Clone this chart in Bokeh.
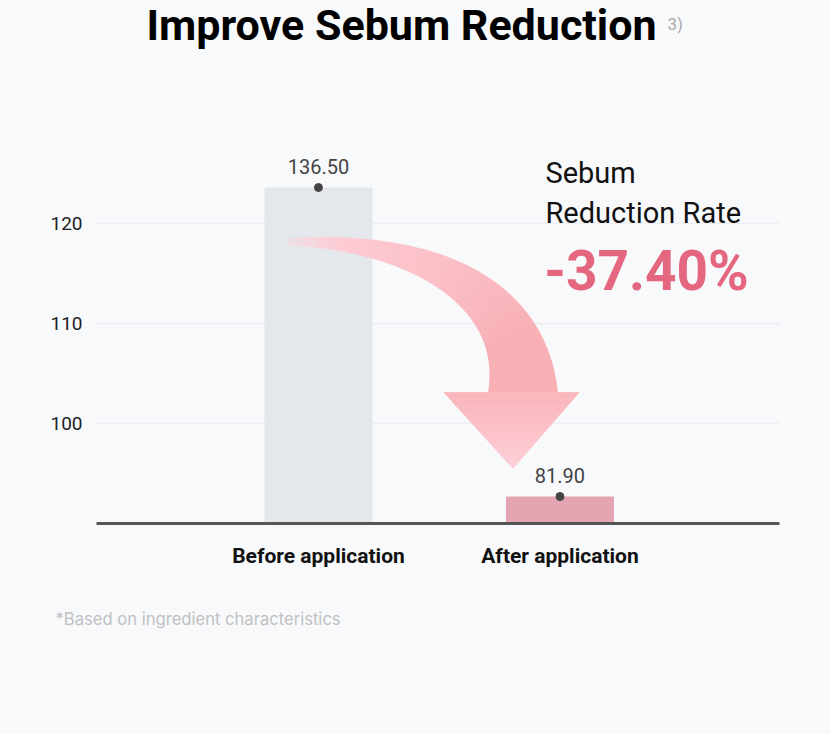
import numpy as np
from bokeh.plotting import figure
from bokeh.models import Range1d, FixedTicker, Title
from bokeh.core.properties import value
from bokeh.embed import file_html
from bokeh.resources import INLINE

# ---------------- data ----------------
categories = ["Before application", "After application"]
reported_values = ["136.50", "81.90"]
bar_heights = [123.6, 92.7]          # heights as drawn on the truncated axis
bar_colors = ["#e4e7eb", "#e4a4b1"]
y_ticks = [100, 110, 120]
y_base = 90
rate_lines = ["Sebum", "Reduction Rate"]
rate_value = "-37.40%"
title_text = "Improve Sebum Reduction"
title_note = "3)"
footnote = "*Based on ingredient characteristics"

# ---------------- layout ----------------
W, H = 830, 734
BG = "#f8f9fb"
x_lo, x_hi = -0.919, 1.909
y_lo, y_hi = y_base, 142.3
ml, mr, mt, mb = 96, 51, 0, 211
px_x = (W - ml - mr) / (x_hi - x_lo)
px_y = (H - mt - mb) / (y_hi - y_lo)
FONT = "Roboto"

xs = list(range(len(categories)))

p = figure(width=W, height=H, output_backend="svg", toolbar_location=None,
           x_range=Range1d(x_lo, x_hi), y_range=Range1d(y_lo, y_hi),
           min_border_left=ml, min_border_right=mr,
           min_border_top=mt, min_border_bottom=mb,
           background_fill_color=BG, border_fill_color=BG)
p.outline_line_color = None

# axes
p.xaxis.ticker = FixedTicker(ticks=xs)
p.xaxis.major_label_overrides = {i: c for i, c in zip(xs, categories)}
p.xaxis.axis_line_color = "#555555"
p.xaxis.axis_line_width = 3
p.xaxis.major_tick_line_color = None
p.xaxis.minor_tick_line_color = None
p.xaxis.major_tick_out = 0
p.xaxis.major_label_standoff = 20
p.xaxis.major_label_text_font = FONT
p.xaxis.major_label_text_font_style = "bold"
p.xaxis.major_label_text_font_size = "21px"
p.xaxis.major_label_text_color = "#111111"

p.yaxis.ticker = FixedTicker(ticks=y_ticks)
p.yaxis.axis_line_color = None
p.yaxis.major_tick_line_color = None
p.yaxis.minor_tick_line_color = None
p.yaxis.major_tick_out = 0
p.yaxis.major_label_standoff = 14
p.yaxis.major_label_text_font = FONT
p.yaxis.major_label_text_font_size = "19px"
p.yaxis.major_label_text_color = "#222222"

p.xgrid.grid_line_color = None
p.ygrid.ticker = FixedTicker(ticks=y_ticks)
p.ygrid.grid_line_color = "#eceef1"
p.ygrid.grid_line_width = 1.5

# bars
bar_w = 108 / px_x
p.vbar(x=xs, top=bar_heights, bottom=y_base, width=bar_w,
       fill_color=bar_colors, line_color=None)

# ---------------- curved arrow ----------------
def to_px(x, y):
    return np.array([x * px_x, y * px_y])

def to_data(P):
    return P[0] / px_x, P[1] / px_y

start = to_px(xs[0] - 30 / px_x, 118.2)
end = to_px(xs[1] - 37 / px_x, 103.1)
P0 = start
P1 = start + np.array([138.0, 0.0])
P2 = end + np.array([0.0, 98.0])
P3 = end
N = 70
ts = np.linspace(0, 1, N + 1)

def bez(t):
    return ((1 - t) ** 3)[:, None] * P0 + (3 * (1 - t) ** 2 * t)[:, None] * P1 \
        + (3 * (1 - t) * t ** 2)[:, None] * P2 + (t ** 3)[:, None] * P3

def dbez(t):
    return (3 * (1 - t) ** 2)[:, None] * (P1 - P0) + (6 * (1 - t) * t)[:, None] * (P2 - P1) \
        + (3 * t ** 2)[:, None] * (P3 - P2)

C = bez(ts)
T = dbez(ts)
T = T / np.linalg.norm(T, axis=1)[:, None]
Nrm = np.stack([-T[:, 1], T[:, 0]], axis=1)
wid = 7 + 62 * ts ** 1.15
outer = C + Nrm * (wid / 2)[:, None]
inner = C - Nrm * (wid / 2)[:, None]

def mix(c1, c2, f):
    a = np.array([int(c1[i:i + 2], 16) for i in (1, 3, 5)])
    b = np.array([int(c2[i:i + 2], 16) for i in (1, 3, 5)])
    c = (a + (b - a) * f).round().astype(int)
    return "#%02x%02x%02x" % tuple(c)

seg_x, seg_y, seg_c, seg_a = [], [], [], []
for i in range(N):
    quad = [outer[i], outer[i + 1], inner[i + 1], inner[i]]
    dx, dy = zip(*[to_data(q) for q in quad])
    seg_x.append(list(dx))
    seg_y.append(list(dy))
    tm = (ts[i] + ts[i + 1]) / 2
    seg_c.append(mix("#ffd0da", "#f8b0b5", min(1.0, tm / 0.8)))
    seg_a.append(min(1.0, 0.25 + tm * 6))
p.patches(xs=seg_x, ys=seg_y, fill_color=seg_c, line_color=seg_c,
          fill_alpha=seg_a, line_alpha=seg_a, line_width=0.8)

# arrow head (banded from base to tip)
base_l = end + np.array([-79.0, 0.0])
base_r = end + np.array([56.0, 0.0])
tip = end + np.array([-10.0, -76.0])
NB = 12
hx, hy, hc = [], [], []
for k in range(NB):
    f0, f1 = k / NB, (k + 1) / NB
    l0 = base_l + (tip - base_l) * f0
    r0 = base_r + (tip - base_r) * f0
    l1 = base_l + (tip - base_l) * f1
    r1 = base_r + (tip - base_r) * f1
    pts = [l0, r0, r1, l1]
    dx, dy = zip(*[to_data(q) for q in pts])
    hx.append(list(dx))
    hy.append(list(dy))
    hc.append(mix("#f9b6bb", "#ffd0da", f0))
p.patches(xs=hx, ys=hy, fill_color=hc, line_color=hc, line_width=0.8)

# dots and value labels
p.scatter(x=xs, y=bar_heights, size=8, color="#444444")
p.text(x=xs, y=bar_heights, text=reported_values, y_offset=-21,
       text_align="center", text_baseline="middle",
       text_font=value(FONT), text_font_size="20px", text_color="#444444")

# title
p.text(x=[0.344], y=[139.9], text=[title_text], text_align="center",
       text_baseline="middle", text_font=value(FONT),
       text_font_style="bold", text_font_size="43px", text_color="#000000")
p.text(x=[1.445], y=[140.0], text=[title_note], text_align="left",
       text_baseline="middle", text_font=value(FONT),
       text_font_size="17px", text_color="#aaaaaa")

# reduction rate callout
p.text(x=[0.94, 0.94], y=[125.05, 121.1], text=rate_lines, text_align="left",
       text_baseline="middle", text_font=value(FONT),
       text_font_size="29px", text_color="#111111")
p.text(x=[0.935], y=[115.25], text=[rate_value], text_align="left",
       text_baseline="middle", text_font=value(FONT), text_font_style="bold",
       text_font_size="55px", text_color="#e4667f")

# footnote
p.add_layout(Title(text=footnote, align="left", offset=-(ml - 55),
                   standoff=72, text_font="Inter", text_font_size="16.6px",
                   text_font_style="normal", text_color="#c0c0c4"), "below")

html = file_html(p, INLINE)
style = ("<style>html,body{margin:0;padding:0;overflow:hidden;"
         "background-color:%s;}</style>" % BG)
html = html.replace("</head>", style + "</head>", 1)
open("out.html", "w").write(html)
